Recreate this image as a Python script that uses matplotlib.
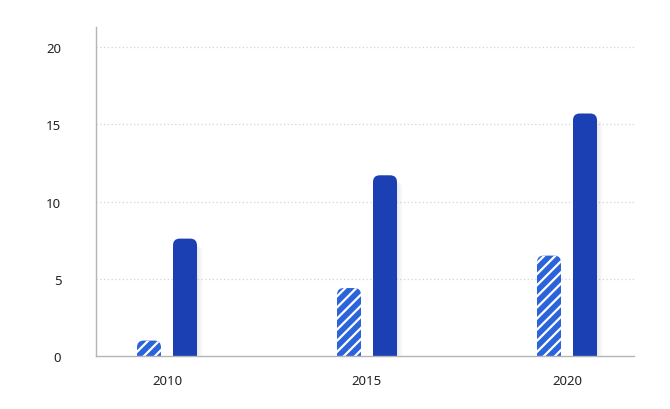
import numpy as np
import matplotlib.pyplot as plt
from matplotlib.patches import FancyBboxPatch

# data
years = ['2010', '2015', '2020']
series_a = [1.0, 4.4, 6.5]     # hatched bars
series_b = [7.6, 11.7, 15.7]   # solid bars
yticks = [0, 5, 10, 15, 20]

plt.rcParams['font.family'] = ['Noto Sans', 'DejaVu Sans']
plt.rcParams['hatch.linewidth'] = 1.6

col_a = '#2b63da'
col_b = '#1a40b3'

fig = plt.figure(figsize=(6.7, 4.1), dpi=100)
ax = fig.add_axes([96 / 670, 53 / 410, 538 / 670, 329 / 410])

x = np.arange(len(years))
w = 0.12
off = 0.09
ax.set_xlim(-0.355, 2.335)
ax.set_ylim(0, 21.3)

bars_a = ax.bar(x - off, series_a, w, color=col_a)
bars_b = ax.bar(x + off, series_b, w, color=col_b)

# aspect between data units per pixel in y and x
fig.canvas.draw()
p0 = ax.transData.transform((0, 0))
p1 = ax.transData.transform((1, 1))
aspect = (1 / (p1[1] - p0[1])) / (1 / (p1[0] - p0[0]))
rad = 0.034
rad_y = rad * aspect


def rounded(bars, face, hatch=None, shadow=False):
    for b in bars:
        bx, bw, bh = b.get_x(), b.get_width(), b.get_height()
        b.remove()
        if shadow:
            for k in range(1, 8):
                sh = FancyBboxPatch((bx + 0.004 * k, -rad_y), bw, bh + rad_y - 0.4,
                                    boxstyle=f"round,pad=0,rounding_size={rad}",
                                    mutation_aspect=aspect, facecolor='#8a93a8',
                                    edgecolor='none', alpha=0.022, zorder=1)
                ax.add_patch(sh)
        p = FancyBboxPatch((bx, -rad_y), bw, bh + rad_y,
                           boxstyle=f"round,pad=0,rounding_size={rad}",
                           mutation_aspect=aspect, facecolor=face,
                           edgecolor='white' if hatch else 'none',
                           linewidth=0, hatch=hatch, zorder=2)
        ax.add_patch(p)


rounded(bars_a, col_a, hatch='///')
rounded(bars_b, col_b, shadow=True)

ax.set_xticks(x)
ax.set_xticklabels(years)
ax.set_yticks(yticks)
ax.tick_params(axis='both', length=0, labelsize=9.5, colors='#222222')
ax.tick_params(axis='y', pad=25)
ax.tick_params(axis='x', pad=13)

for y in yticks[1:]:
    ax.axhline(y, color='#d4d4d4', linewidth=0.9, linestyle=(0, (1, 2)), zorder=0)

for s in ['top', 'right']:
    ax.spines[s].set_visible(False)
for s in ['left', 'bottom']:
    ax.spines[s].set_color('#b5b5b5')
    ax.spines[s].set_linewidth(1)
    ax.spines[s].set_zorder(3)

fig.savefig('out.png', dpi=100)
